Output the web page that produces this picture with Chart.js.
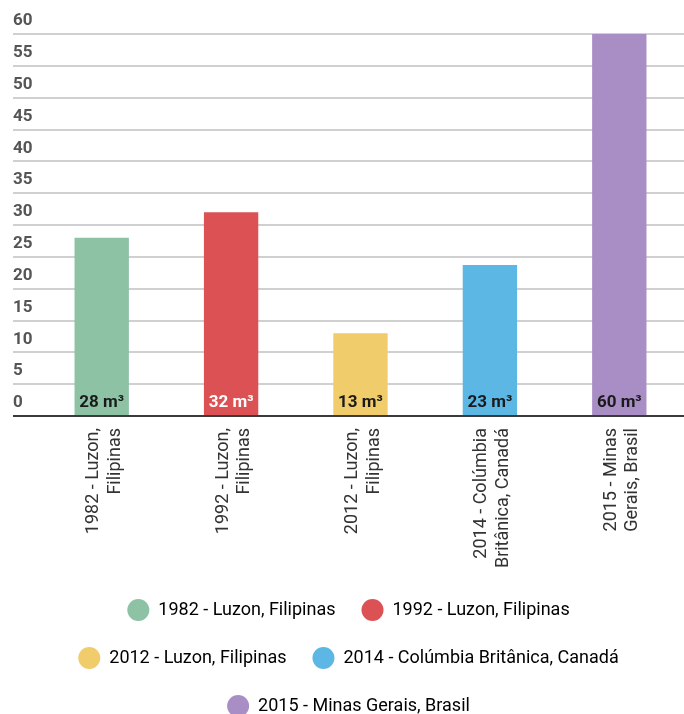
<!DOCTYPE html>
<html>
<head>
<meta charset="utf-8">
<script src="https://cdn.jsdelivr.net/npm/chart.js@4.4.1/dist/chart.umd.min.js"></script>
<style>
  html, body { margin: 0; padding: 0; background: #fff; }
  #wrap { width: 684px; height: 714px; }
</style>
</head>
<body>
<div id="wrap"><canvas id="chart"></canvas></div>
<script>
// Chart data
const categories = [
    '1982 - Luzon, Filipinas',
    '1992 - Luzon, Filipinas',
    '2012 - Luzon, Filipinas',
    '2014 - Colúmbia Britânica, Canadá',
    '2015 - Minas Gerais, Brasil'
];
const axisLabels = [
    ['1982 - Luzon,', 'Filipinas'],
    ['1992 - Luzon,', 'Filipinas'],
    ['2012 - Luzon,', 'Filipinas'],
    ['2014 - Colúmbia', 'Britânica, Canadá'],
    ['2015 - Minas', 'Gerais, Brasil']
];
const values = [28, 32, 13, 23.7, 60];
const valueLabels = ['28 m³', '32 m³', '13 m³', '23 m³', '60 m³'];
const barColors = ['#8dc2a5', '#dc5254', '#f1cc6b', '#5db7e5', '#a98ec6'];
const valueTextColors = ['#1a1a1a', '#ffffff', '#1a1a1a', '#1a1a1a', '#1a1a1a'];

// Value labels at the foot of each bar
const valueLabelPlugin = {
    id: 'valueLabels',
    afterDatasetsDraw(chart) {
        const ctx = chart.ctx;
        const y = chart.scales.y;
        const meta = chart.getDatasetMeta(0);
        ctx.save();
        ctx.font = 'bold 17px Roboto';
        ctx.textAlign = 'center';
        ctx.textBaseline = 'middle';
        meta.data.forEach(function(bar, i) {
            ctx.fillStyle = valueTextColors[i];
            ctx.fillText(valueLabels[i], bar.x, y.getPixelForValue(0) - 13);
        });
        ctx.restore();
    }
};

const ctx = document.getElementById('chart').getContext('2d');

new Chart(ctx, {
    type: 'bar',
    data: {
        labels: axisLabels,
        datasets: [{
            data: values,
            backgroundColor: barColors,
            borderWidth: 0,
            categoryPercentage: 1,
            barPercentage: 0.42
        }]
    },
    options: {
        responsive: true,
        maintainAspectRatio: false,
        animation: false,
        layout: {
            padding: { left: 13, top: 34, right: 0, bottom: -13 }
        },
        scales: {
            x: {
                grid: { display: false },
                border: { display: false },
                ticks: {
                    minRotation: 90,
                    maxRotation: 90,
                    padding: 4,
                    labelOffset: -8,
                    color: '#333',
                    font: { family: 'Roboto', size: 18 }
                },
                afterFit: function(scale) {
                    scale.height = 157;
                }
            },
            y: {
                min: 0,
                max: 60,
                border: { display: false },
                grid: {
                    tickLength: 24,
                    lineWidth: 2,
                    color: function(c) {
                        return c.tick && c.tick.value === 0 ? '#3a3a3a' : '#d0d0d0';
                    }
                },
                ticks: {
                    stepSize: 5,
                    crossAlign: 'far',
                    padding: 0,
                    labelOffset: -13,
                    color: '#555',
                    font: { family: 'Roboto', size: 17, weight: 'bold' }
                },
                afterFit: function(scale) {
                    scale.width = 24;
                }
            }
        },
        plugins: {
            tooltip: { enabled: false },
            legend: {
                position: 'bottom',
                labels: {
                    boxWidth: 22,
                    boxHeight: 22,
                    useBorderRadius: true,
                    borderRadius: 11,
                    padding: 26,
                    color: '#444',
                    font: { family: 'Roboto', size: 18 },
                    generateLabels: function() {
                        return categories.map(function(name, i) {
                            return {
                                text: name,
                                fillStyle: barColors[i],
                                strokeStyle: barColors[i],
                                lineWidth: 0,
                                borderRadius: 11,
                                hidden: false,
                                index: i
                            };
                        });
                    }
                }
            }
        }
    },
    plugins: [valueLabelPlugin]
});
</script>
</body>
</html>
